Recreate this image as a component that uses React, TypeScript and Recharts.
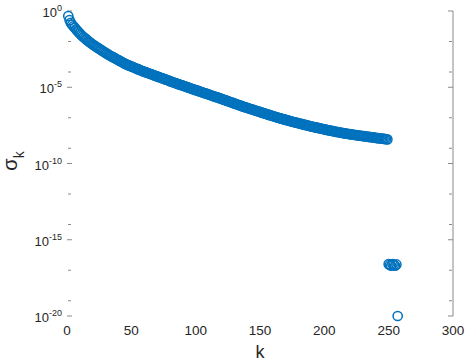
// Singular values of a 257-point problem, semilog scatter (MATLAB look).
import { Label, Scatter, ScatterChart, XAxis, YAxis } from "recharts";

const X_TICKS = [0, 50, 100, 150, 200, 250, 300];
const Y_TICKS = [1, 1e-5, 1e-10, 1e-15, 1e-20];
const Y_MINOR = [
  1e-1, 1e-2, 1e-3, 1e-4, 1e-6, 1e-7, 1e-8, 1e-9, 1e-11, 1e-12, 1e-13, 1e-14,
  1e-16, 1e-17, 1e-18, 1e-19,
];

// log10(sigma_k), k = 1, 2, 3, ...
const LOG10_SIGMA = [
  -0.33, -0.6, -0.78, -0.9, -1.0, -1.1, -1.2, -1.3, -1.39, -1.48,
  -1.57, -1.65, -1.72, -1.79, -1.86, -1.93, -2.0, -2.07, -2.13, -2.2,
  -2.25, -2.31, -2.36, -2.42, -2.47, -2.53, -2.58, -2.64, -2.69, -2.75,
  -2.8, -2.85, -2.9, -2.95, -2.99, -3.04, -3.08, -3.13, -3.18, -3.22,
  -3.27, -3.31, -3.36, -3.41, -3.45, -3.5, -3.53, -3.57, -3.6, -3.64,
  -3.67, -3.71, -3.74, -3.78, -3.81, -3.85, -3.88, -3.92, -3.95, -3.98,
  -4.01, -4.04, -4.07, -4.1, -4.13, -4.16, -4.2, -4.23, -4.26, -4.29,
  -4.32, -4.35, -4.38, -4.41, -4.44, -4.47, -4.5, -4.53, -4.56, -4.6,
  -4.63, -4.66, -4.69, -4.72, -4.75, -4.78, -4.81, -4.84, -4.86, -4.89,
  -4.92, -4.95, -4.98, -5.01, -5.04, -5.07, -5.1, -5.13, -5.16, -5.19,
  -5.21, -5.24, -5.27, -5.3, -5.33, -5.36, -5.39, -5.41, -5.44, -5.47,
  -5.5, -5.53, -5.56, -5.59, -5.62, -5.65, -5.67, -5.7, -5.73, -5.76,
  -5.79, -5.82, -5.85, -5.88, -5.91, -5.94, -5.97, -6.0, -6.03, -6.06,
  -6.09, -6.12, -6.15, -6.18, -6.21, -6.24, -6.27, -6.3, -6.32, -6.35,
  -6.38, -6.41, -6.43, -6.46, -6.49, -6.51, -6.54, -6.57, -6.59, -6.62,
  -6.65, -6.68, -6.7, -6.73, -6.76, -6.78, -6.81, -6.84, -6.86, -6.89,
  -6.92, -6.94, -6.97, -6.99, -7.02, -7.04, -7.07, -7.09, -7.11, -7.14,
  -7.16, -7.18, -7.21, -7.23, -7.26, -7.28, -7.3, -7.32, -7.34, -7.36,
  -7.38, -7.4, -7.42, -7.45, -7.47, -7.49, -7.51, -7.53, -7.55, -7.57,
  -7.59, -7.61, -7.63, -7.65, -7.67, -7.68, -7.7, -7.72, -7.74, -7.76,
  -7.78, -7.8, -7.82, -7.83, -7.85, -7.87, -7.88, -7.9, -7.92, -7.93,
  -7.95, -7.97, -7.98, -8.0, -8.01, -8.03, -8.04, -8.05, -8.07, -8.08,
  -8.09, -8.1, -8.12, -8.13, -8.14, -8.15, -8.17, -8.18, -8.19, -8.2,
  -8.21, -8.22, -8.24, -8.25, -8.26, -8.27, -8.28, -8.29, -8.3, -8.32,
  -8.33, -8.34, -8.35, -8.36, -8.37, -8.38, -8.39, -8.41, -8.42,
  // numerically zero tail
  -16.6, -16.65, -16.7, -16.6, -16.65, -16.7, -16.62,
  -20,
];

const data = LOG10_SIGMA.map((e, i) => ({ k: i + 1, sigma: 10 ** e }));

const FONT = "'Liberation Sans', Arial, Helvetica, sans-serif";
const INK = "#262626";
const BLUE = "#0072BD";
const TICK = "#8a8a8a";

function XTick(p: any) {
  return (
    <text x={p.x} y={p.y + 19} textAnchor="middle" fontSize={13.5} fontFamily={FONT} fill={INK}>
      {p.payload.value}
    </text>
  );
}

function YTick(p: any) {
  const exp = Math.round(Math.log10(p.payload.value));
  return (
    <text x={p.x - 5} y={p.y + 6} textAnchor="end" fontSize={13} fontFamily={FONT} fill={INK}>
      <tspan>10</tspan>
      <tspan dy={-6} fontSize={9}>{exp}</tspan>
    </text>
  );
}

function NoLabel() {
  return <g />;
}

function Ring(p: any) {
  return <circle cx={p.cx} cy={p.cy} r={4.6} fill="none" stroke={BLUE} strokeWidth={1.5} />;
}

const xCommon = { type: "number" as const, domain: [0, 300], ticks: X_TICKS };
const yCommon = { type: "number" as const, scale: "log" as const, domain: [1e-20, 1] };

export default function App() {
  return (
    <div style={{ position: "absolute", left: 0, top: 0, width: 466, height: 362, background: "#fff" }}>
      <ScatterChart width={466} height={362} margin={{ top: 11, right: 13, bottom: 0, left: 0 }}>
        <XAxis xAxisId="b" dataKey="k" {...xCommon} height={46} axisLine={false} tickLine={false}
          tickSize={0} tickMargin={0} tick={XTick}>
          <Label content={({ viewBox }: any) => (
            <text x={viewBox.x + viewBox.width / 2} y={viewBox.y + viewBox.height - 4}
              textAnchor="middle" fontSize={18} fontFamily={FONT} fill={INK}>k</text>
          )} />
        </XAxis>
        <XAxis xAxisId="bt" {...xCommon} allowDataOverflow orientation="bottom" mirror height={1}
          axisLine={false} tick={NoLabel} tickSize={4} stroke={TICK} />
        <XAxis xAxisId="tt" {...xCommon} allowDataOverflow orientation="top" mirror height={1}
          axisLine={false} tick={NoLabel} tickSize={4} stroke={TICK} />
        <YAxis yAxisId="l" dataKey="sigma" {...yCommon} ticks={Y_TICKS} width={67} axisLine={false}
          tickLine={false} tickSize={0} tickMargin={0} tick={YTick}>
          <Label content={({ viewBox }: any) => {
            const x = viewBox.x + 17;
            const y = 161;
            return (
              <text x={x} y={y} transform={`rotate(-90 ${x} ${y})`} textAnchor="middle"
                fontSize={20} fontFamily={FONT} fill={INK}>
                σ<tspan dy={7} fontSize={14}>k</tspan>
              </text>
            );
          }} />
        </YAxis>
        <YAxis yAxisId="lmaj" {...yCommon} allowDataOverflow ticks={Y_TICKS} mirror width={1}
          axisLine={false} tick={NoLabel} tickSize={5} stroke={TICK} />
        <YAxis yAxisId="lmin" {...yCommon} allowDataOverflow ticks={Y_MINOR} mirror width={1}
          axisLine={false} tick={NoLabel} tickSize={3} stroke={TICK} />
        <YAxis yAxisId="rmaj" {...yCommon} allowDataOverflow ticks={Y_TICKS} orientation="right"
          mirror width={1} axisLine={{ stroke: TICK }} tick={NoLabel} tickSize={5} stroke={TICK} />
        <YAxis yAxisId="rmin" {...yCommon} allowDataOverflow ticks={Y_MINOR} orientation="right"
          mirror width={1} axisLine={false} tick={NoLabel} tickSize={3} stroke={TICK} />
        <Scatter data={data} xAxisId="b" yAxisId="l" dataKey="sigma" shape={Ring} isAnimationActive={false} />
      </ScatterChart>
    </div>
  );
}
